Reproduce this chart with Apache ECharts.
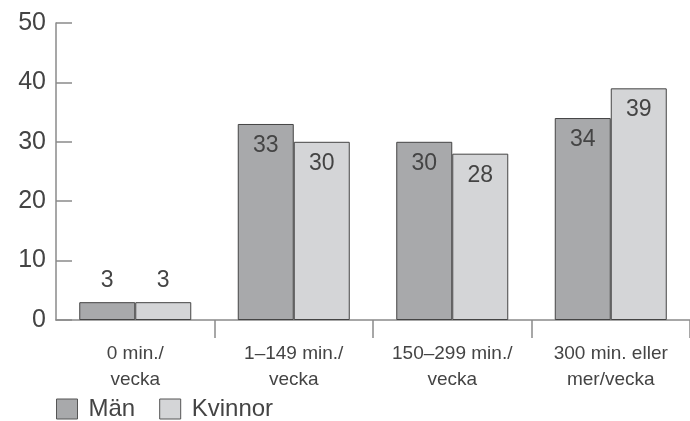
<!DOCTYPE html>
<html>
<head>
<meta charset="utf-8">
<script src="https://cdn.jsdelivr.net/npm/echarts@6/dist/echarts.min.js"></script>
<style>
  html, body { margin: 0; padding: 0; background: #fff; }
  #chart { width: 690px; height: 421px; }
</style>
</head>
<body>
<div id="chart"></div>
<script>
// Physical activity per week, share (%) by sex
const categories = ['0 min./\nvecka', '1–149 min./\nvecka', '150–299 min./\nvecka', '300 min. eller\nmer/vecka'];
const seriesNames = ['Män', 'Kvinnor'];
const menValues = [3, 33, 30, 34];
const womenValues = [3, 30, 28, 39];
const yTicks = [0, 10, 20, 30, 40, 50];

const FONT = '"Liberation Sans", Arial, sans-serif';
const TEXT = '#444';
const AXIS = '#8a8a8a';

// Small values get their label above the bar, tall bars inside at the top
function labelFor(v) {
  return v < 10
    ? { show: true, position: 'top', distance: 10 }
    : { show: true, position: 'insideTop', distance: 10 };
}

function seriesData(values) {
  return values.map(v => ({ value: v, label: labelFor(v) }));
}

const chart = echarts.init(document.getElementById('chart'), null, { renderer: 'canvas' });
chart.setOption({
  animation: false,
  textStyle: { fontFamily: FONT },
  grid: { left: 56, top: 23, width: 637, height: 297, containLabel: false },
  legend: {
    left: 56,
    top: 397,
    padding: 0,
    itemWidth: 21,
    itemHeight: 20,
    itemGap: 24,
    icon: 'rect',
    textStyle: { fontFamily: FONT, fontSize: 24, color: TEXT, padding: [0, 0, 0, 6] },
    itemStyle: { borderColor: '#555', borderWidth: 1 },
    data: seriesNames
  },
  xAxis: {
    type: 'category',
    data: categories,
    axisLine: { lineStyle: { color: AXIS, width: 1.5 } },
    axisTick: {
      show: true,
      length: 18,
      interval: (idx) => idx !== 0,
      lineStyle: { color: AXIS, width: 1.5 }
    },
    axisLabel: {
      fontFamily: FONT,
      fontSize: 19,
      color: TEXT,
      lineHeight: 26,
      margin: 21
    }
  },
  yAxis: {
    type: 'value',
    min: yTicks[0],
    max: yTicks[yTicks.length - 1],
    interval: 10,
    splitLine: { show: false },
    axisLine: { show: true, lineStyle: { color: AXIS, width: 1.5 } },
    axisTick: { show: true, inside: true, length: 16, lineStyle: { color: AXIS, width: 1.5 } },
    axisLabel: { fontFamily: FONT, fontSize: 25, color: TEXT, margin: 10 }
  },
  series: [
    {
      name: seriesNames[0],
      type: 'bar',
      data: seriesData(menValues),
      barWidth: 56,
      barGap: '0%',
      itemStyle: { color: '#a8a9ab', borderColor: '#444', borderWidth: 1 },
      label: { fontFamily: FONT, fontSize: 23, color: TEXT }
    },
    {
      name: seriesNames[1],
      type: 'bar',
      data: seriesData(womenValues),
      barWidth: 56,
      barGap: '0%',
      itemStyle: { color: '#d4d5d7', borderColor: '#444', borderWidth: 1 },
      label: { fontFamily: FONT, fontSize: 23, color: TEXT }
    }
  ]
});
</script>
</body>
</html>
